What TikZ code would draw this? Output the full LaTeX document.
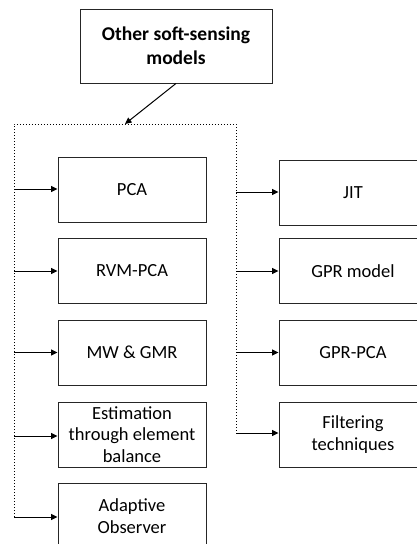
\documentclass[tikz,border=0pt]{standalone}
\usepackage{fontspec}
\setmainfont{Carlito}
\usetikzlibrary{arrows.meta}
\begin{document}
\begin{tikzpicture}[x=1pt,y=-1pt,
  box/.style={draw=black!85,line width=0.9pt,minimum width=148pt,minimum height=65pt,inner sep=1pt,align=center,font=\fontsize{18.5}{21.5}\selectfont},
  arr/.style={line width=1pt,-{Triangle[length=6.5pt,width=6pt]}},
  frame/.style={line width=0.6pt,dash pattern=on 0.7pt off 2.3pt}]
\useasboundingbox (0,0) rectangle (417,544);
\node[box,minimum width=192pt,minimum height=74pt,font=\bfseries\fontsize{19.5}{24}\selectfont] (top) at (176,46) {Other soft-sensing\\models};
\coordinate (fl) at (14,124);
\coordinate (fr) at (236,124);
\coordinate (fin) at (125,124);
\node[box] (pca) at (132,189.5) {PCA};
\node[box] (rvm) at (132,271) {RVM-PCA};
\node[box] (mw) at (132,352.5) {MW \& GMR};
\node[box] (est) at (132,434.5) {Estimation\\through element\\balance};
\node[box] (ad) at (132,516) {Adaptive\\Observer};
\node[box] (jit) at (353,192.5) {JIT};
\node[box] (gpr) at (353,271) {GPR model};
\node[box] (gpca) at (353,352.5) {GPR-PCA};
\node[box] (filt) at (353,434.5) {Filtering\\techniques};
\coordinate (flb) at (14,517);
\coordinate (frb) at (236,433);
\draw[frame] (flb) -- (fl) -- (fr) -- (frb);
\draw[arr] (top.south) -- (fin);
\draw[arr] (fl |- 0,189) -- (fl |- 0,189 -| pca.west);
\draw[arr] (fl |- rvm.west) -- (rvm.west);
\draw[arr] (fl |- mw.west) -- (mw.west);
\draw[arr] (fl |- 0,436) -- (0,436 -| est.west);
\draw[arr] (flb) -- (flb -| ad.west);
\draw[arr] (fr |- 0,192) -- (0,192 -| jit.west);
\draw[arr] (fr |- gpr.west) -- (gpr.west);
\draw[arr] (fr |- gpca.west) -- (gpca.west);
\draw[arr] (frb) -- (frb -| filt.west);
\end{tikzpicture}
\end{document}
